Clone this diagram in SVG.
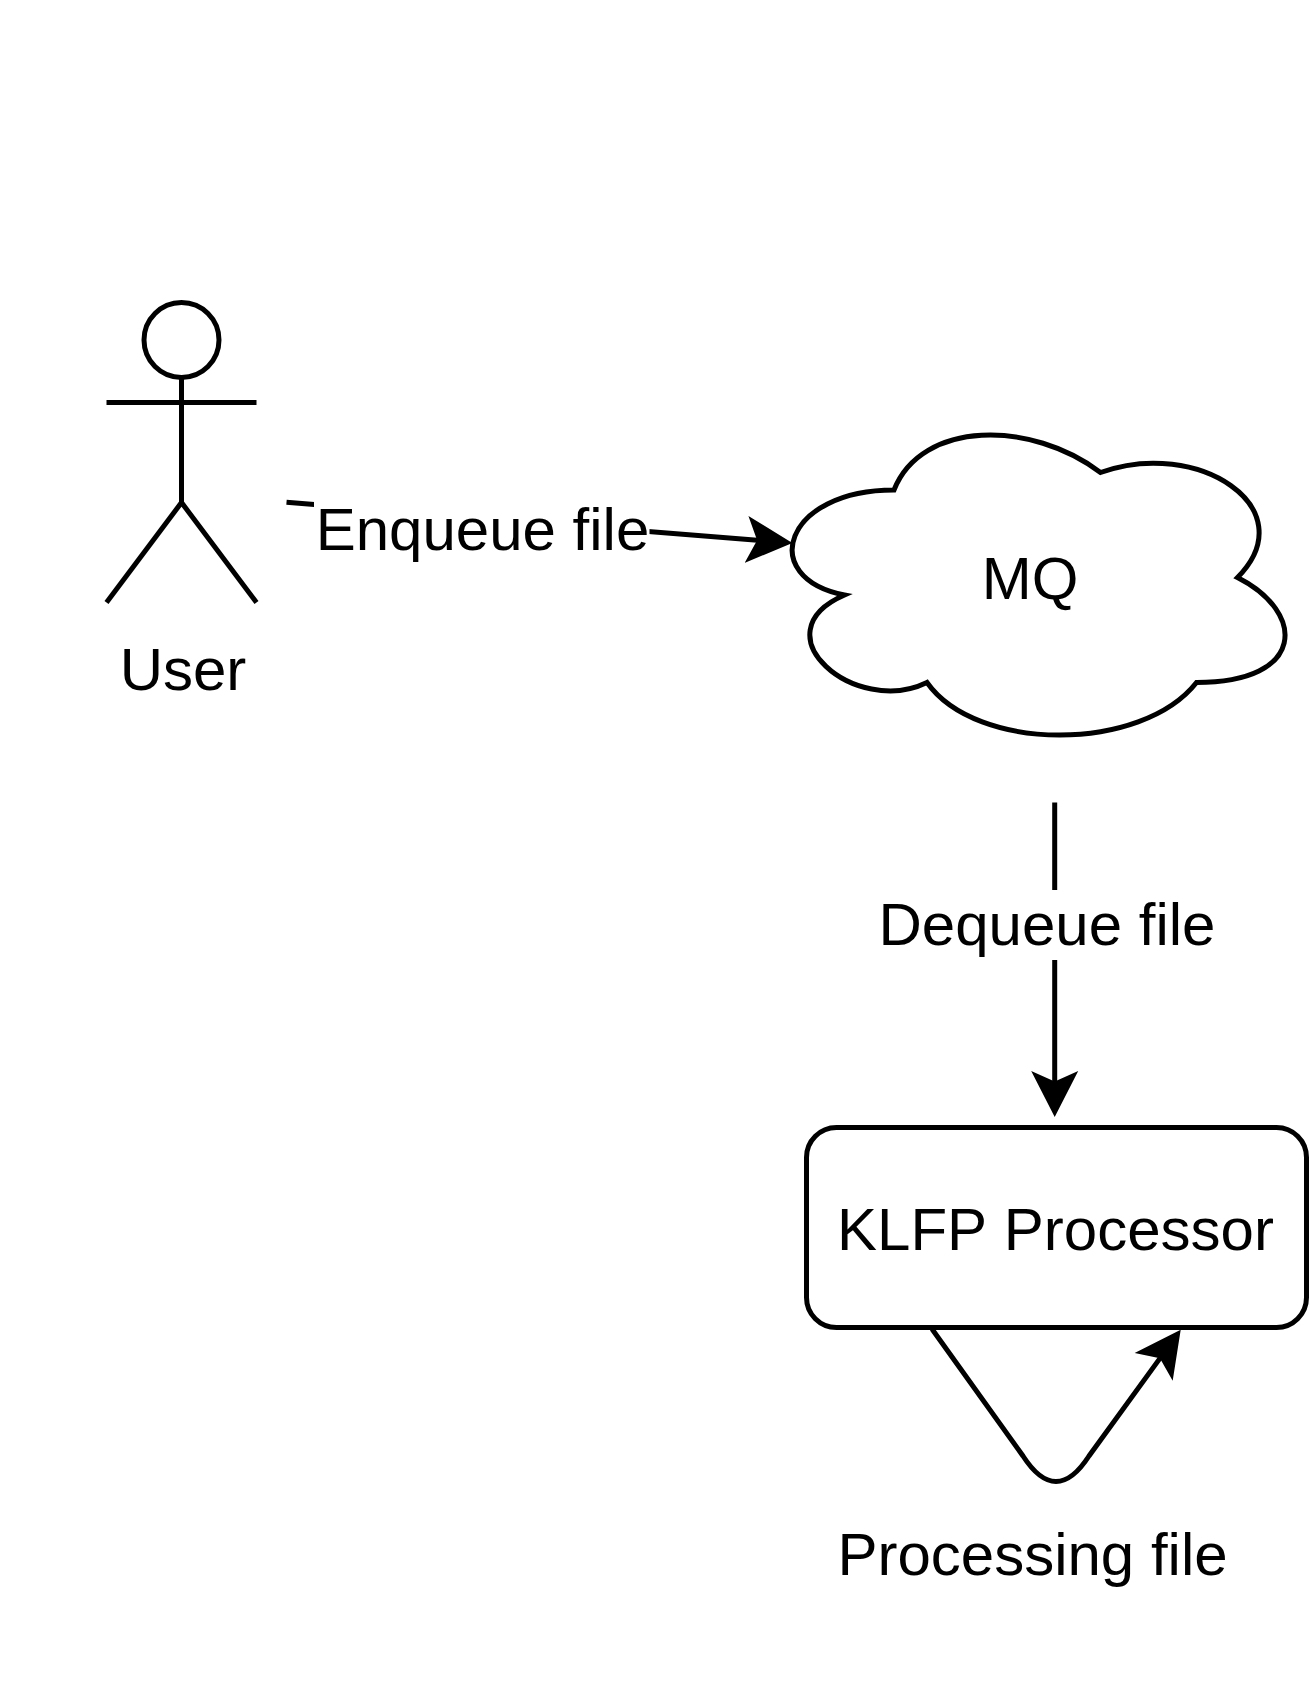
<svg xmlns="http://www.w3.org/2000/svg" width="1309" height="1690" viewBox="0 0 1309 1690">
  <style>
    .shape { fill: #ffffff; stroke: #000000; stroke-width: 5; stroke-miterlimit: 10; }
    .stick { fill: none; stroke: #000000; stroke-width: 5; stroke-miterlimit: 10; }
    .edge { fill: none; stroke: #000000; stroke-width: 5; stroke-miterlimit: 10; marker-end: url(#arrow); }
    .label { font-family: "Liberation Sans", Arial, sans-serif; font-size: 60px; font-kerning: none; fill: #000000; text-anchor: middle; }
    .mask { fill: #ffffff; stroke: none; }
  </style>
  <defs>
    <marker id="arrow" markerUnits="userSpaceOnUse" markerWidth="50" markerHeight="50" viewBox="0 -25 50 50" refX="14" refY="0" orient="auto">
      <path d="M 0 -23.5 L 46 0 L 0 23.5 L 10.6 0 Z" fill="#000000"/>
    </marker>
  </defs>
  <rect width="1309" height="1690" fill="#ffffff"/>

  <g id="connectors">
    <g id="edge-enqueue">
      <path class="edge" d="M 286.5 502.3 L 760.5 540.5"/>
      <rect class="mask" x="314" y="482" width="335.5" height="76"/>
      <text class="label" x="482.5" y="549.5">Enqueue file</text>
    </g>
    <g id="edge-dequeue">
      <path class="edge" d="M 1054.7 802.5 L 1054.7 1085"/>
      <rect class="mask" x="878" y="890" width="338" height="70"/>
      <text class="label" x="1047" y="944.5">Dequeue file</text>
    </g>
    <g id="edge-processing">
      <path class="edge" d="M 932 1329 L 1023 1456 Q 1056 1507 1089 1456 L 1161.9 1355.6"/>
      <text class="label" x="1032.5" y="1574.5">Processing file</text>
    </g>
  </g>

  <g id="node-user">
    <circle class="stick" cx="181.5" cy="340" r="37.5"/>
    <path class="stick" d="M 181.5 377.5 L 181.5 502.5 M 106.5 402.5 L 256.5 402.5 M 106.5 602.5 L 181.5 502.5 L 256.5 602.5"/>
    <text class="label" x="183" y="689.5">User</text>
  </g>

  <g id="node-mq">
    <path class="shape" d="M 894 490 C 784 490 756.5 577.5 844.5 595 C 756.5 633.5 855.5 717.5 927 682.5 C 976.5 752.5 1141.5 752.5 1196.5 682.5 C 1306.5 682.5 1306.5 612.5 1237.5 577.5 C 1306.5 507.5 1196.5 437.5 1100.5 472.5 C 1031.5 420 921.5 420 894 490 Z"/>
    <text class="label" x="1030" y="598.5">MQ</text>
  </g>

  <g id="node-processor">
    <rect class="shape" x="806.5" y="1127.5" width="500" height="200" rx="30" ry="30"/>
    <text class="label" x="1055.5" y="1249.5">KLFP Processor</text>
  </g>
</svg>
